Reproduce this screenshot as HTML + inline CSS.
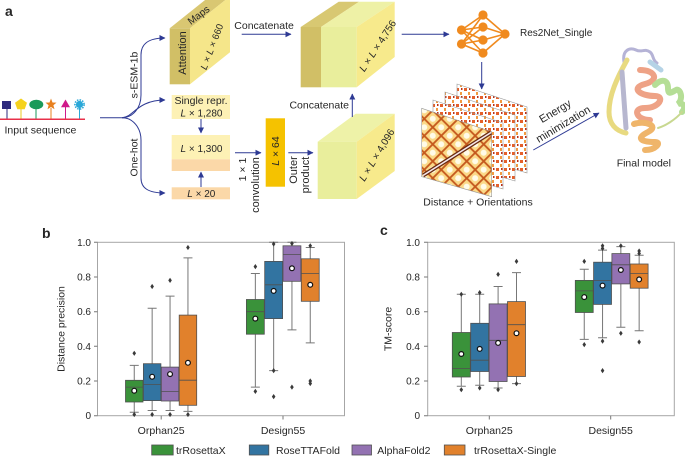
<!DOCTYPE html>
<html><head><meta charset="utf-8"><style>
html,body{margin:0;padding:0;background:#fff}
svg{display:block}
text{font-family:"Liberation Sans",Arial,sans-serif;fill:#262626}
</style></head><body>
<svg width="685" height="456" viewBox="0 0 685 456" xmlns="http://www.w3.org/2000/svg">
<defs>
<marker id="ah" markerWidth="6" markerHeight="6" refX="5.5" refY="3" orient="auto" markerUnits="userSpaceOnUse"><path d="M0,0 L6,3 L0,6 Z" fill="#2e3a94"/></marker>
<path id="dm" d="M0,-2.6 L1.8,0 L0,2.6 L-1.8,0Z" fill="#3a3a3a"/>
<pattern id="hf" width="12" height="12" patternUnits="userSpaceOnUse" patternTransform="rotate(45)">
<rect width="12" height="12" fill="#fbd988"/><rect width="12" height="12" fill="none" stroke="#c4581c" stroke-width="1.8"/><circle cx="6" cy="6" r="3" fill="#fffbe8"/></pattern>
<pattern id="hb" width="8" height="8" patternUnits="userSpaceOnUse">
<rect width="8" height="8" fill="#fff"/><rect width="3" height="3" fill="#e5602a"/><rect x="4" y="4" width="2" height="3" fill="#f29a40"/><rect x="5" y="0" width="1.5" height="2" fill="#b8301a"/></pattern>
</defs>

<!-- ===== Panel a ===== -->
<text x="5" y="16" font-size="14" font-weight="bold">a</text>

<!-- input sequence -->
<g stroke-width="1">
<line x1="7" y1="108" x2="7" y2="119" stroke="#2e2a7e"/>
<line x1="21" y1="108" x2="21" y2="119" stroke="#e8c81e"/>
<line x1="36" y1="108" x2="36" y2="119" stroke="#1a9a5a"/>
<line x1="51" y1="108" x2="51" y2="119" stroke="#e8801e"/>
<line x1="65.5" y1="107" x2="65.5" y2="119" stroke="#d01a8a"/>
<line x1="79.5" y1="108" x2="79.5" y2="119" stroke="#2aa8d8"/>
</g>
<rect x="2" y="101" width="9" height="8" fill="#2e2a7e"/>
<polygon points="21,98.5 27,102.8 24.7,109.3 17.3,109.3 15,102.8" fill="#f5d21e"/>
<ellipse cx="36.3" cy="104.5" rx="7" ry="4.8" fill="#1a9a5a"/>
<polygon points="51,98.5 52.5,102.5 56.5,102.6 53.4,105.2 54.5,109.3 51,107 47.5,109.3 48.6,105.2 45.5,102.6 49.5,102.5" fill="#e8801e"/>
<polygon points="65.5,99.5 70,107.3 61,107.3" fill="#d01a8a"/>
<circle cx="79.5" cy="104.5" r="3.6" fill="#2aa8d8"/>
<circle cx="79.5" cy="104.5" r="4.6" fill="none" stroke="#2aa8d8" stroke-width="1.6" stroke-dasharray="1.5 1.2"/>
<line x1="0" y1="119.3" x2="85" y2="119.3" stroke="#e8304a" stroke-width="1.5"/>
<text x="4.5" y="133.5" font-size="10.5">Input sequence</text>

<!-- branching arrows -->
<g fill="none" stroke="#2e3a94" stroke-width="1">
<path d="M100,117.7 L122,117.7 C133,117.7 141,108 141,95 L141,55 C141,44 148,38 165,38" marker-end="url(#ah)"/>
<path d="M122,117.7 C133,117.7 137,100 165,100" marker-end="url(#ah)"/>
<path d="M122,117.7 C133,117.7 141,128 141,140 L141,178 C141,188 148,193 165,193" marker-end="url(#ah)"/>
</g>
<text transform="translate(134,75) rotate(-90)" text-anchor="middle" dy="0.35em" font-size="10.5">s-ESM-1b</text>
<text transform="translate(134,157.5) rotate(-90)" text-anchor="middle" dy="0.35em" font-size="10.5">One-hot</text>

<!-- attention box -->
<polygon points="169.7,28.3 209.7,-3.7 230,-3.7 190,28.3" fill="#d9c772"/>
<rect x="169.7" y="28.3" width="20.3" height="56" fill="#d1bf66"/>
<polygon points="190,28.3 230,-3.7 230,52.3 190,84.3" fill="#f5e68a"/>
<text transform="translate(182.3,53) rotate(-90)" text-anchor="middle" dy="0.35em" font-size="11">Attention</text>
<text transform="translate(198.5,15) rotate(-37)" text-anchor="middle" dy="0.35em" font-size="10">Maps</text>
<text transform="translate(211.7,46.7) rotate(-69)" text-anchor="middle" dy="0.35em" font-size="9.5"><tspan font-style="italic">L</tspan> × <tspan font-style="italic">L</tspan> × 660</text>

<!-- small boxes -->
<rect x="171.7" y="95" width="58.3" height="24" fill="#fdf1b5"/>
<text x="201" y="104" text-anchor="middle" font-size="10.5">Single repr.</text>
<text x="201.5" y="116.3" text-anchor="middle" font-size="10"><tspan font-style="italic">L</tspan> × 1,280</text>
<line x1="201" y1="119" x2="201" y2="133" stroke="#2e3a94" marker-end="url(#ah)"/>
<rect x="171.7" y="135" width="58.3" height="24.3" fill="#fdf1b5"/>
<rect x="171.7" y="159.3" width="58.3" height="11.7" fill="#fbd8a8"/>
<text x="201.5" y="152" text-anchor="middle" font-size="10"><tspan font-style="italic">L</tspan> × 1,300</text>
<line x1="201" y1="187" x2="201" y2="172" stroke="#2e3a94" marker-end="url(#ah)"/>
<rect x="171.7" y="187.3" width="58.3" height="12" fill="#fbd8a8"/>
<text x="201.3" y="197" text-anchor="middle" font-size="10"><tspan font-style="italic">L</tspan> × 20</text>

<!-- convolution -->
<line x1="235" y1="152.7" x2="261" y2="152.7" stroke="#2e3a94" marker-end="url(#ah)"/>
<text transform="translate(242.5,169.5) rotate(-90)" text-anchor="middle" dy="0.35em" font-size="10.5">1 × 1</text>
<text transform="translate(255,185) rotate(-90)" text-anchor="middle" dy="0.35em" font-size="11">convolution</text>
<rect x="265.7" y="118.3" width="19.3" height="68.4" fill="#f5c200"/>
<text transform="translate(275.3,151) rotate(-90)" text-anchor="middle" dy="0.35em" font-size="10.5"><tspan font-style="italic">L</tspan> × 64</text>
<line x1="288.3" y1="152.7" x2="313" y2="152.7" stroke="#2e3a94" marker-end="url(#ah)"/>
<text transform="translate(293.3,170) rotate(-90)" text-anchor="middle" dy="0.35em" font-size="11">Outer</text>
<text transform="translate(305,175) rotate(-90)" text-anchor="middle" dy="0.35em" font-size="11">product</text>

<!-- concatenate top -->
<text x="234.3" y="29" font-size="10.5">Concatenate</text>
<line x1="241.7" y1="34.3" x2="291" y2="34.3" stroke="#2e3a94" marker-end="url(#ah)"/>

<!-- upper concat box -->
<polygon points="300.7,27 338.7,1.7 359,1.7 321,27" fill="#d8c872"/>
<polygon points="321,27 359,1.7 394.7,1.7 356.7,27" fill="#eef1a6"/>
<rect x="300.7" y="27" width="20.3" height="60.3" fill="#d1bf66"/>
<rect x="321" y="27" width="35.7" height="60.3" fill="#e9ee9c"/>
<polygon points="356.7,27 394.7,1.7 394.7,57 356.7,87.3" fill="#f7ea8c"/>
<text transform="translate(377.5,45.8) rotate(-57)" text-anchor="middle" dy="0.35em" font-size="10"><tspan font-style="italic">L</tspan> × <tspan font-style="italic">L</tspan> × 4,756</text>

<!-- lower box -->
<polygon points="317.7,141.7 355.7,113.7 394.7,113.7 356.7,141.7" fill="#eef2a8"/>
<rect x="317.7" y="141.7" width="39" height="57.3" fill="#e9ee9c"/>
<polygon points="356.7,141.7 394.7,113.7 394.7,171 356.7,199" fill="#f7ea8c"/>
<text transform="translate(376.7,155) rotate(-59)" text-anchor="middle" dy="0.35em" font-size="10"><tspan font-style="italic">L</tspan> × <tspan font-style="italic">L</tspan> × 4,096</text>
<text x="349" y="108.5" text-anchor="end" font-size="10.5">Concatenate</text>
<line x1="352.3" y1="117" x2="352.3" y2="94" stroke="#2e3a94" marker-end="url(#ah)"/>

<!-- NN -->
<line x1="401.7" y1="34.3" x2="449" y2="34.3" stroke="#2e3a94" marker-end="url(#ah)"/>
<g stroke="#f08a1e" stroke-width="1.6">
<line x1="461.5" y1="30" x2="483" y2="15"/><line x1="461.5" y1="30" x2="483" y2="27"/><line x1="461.5" y1="30" x2="483" y2="40"/><line x1="461.5" y1="30" x2="483" y2="53"/>
<line x1="461.5" y1="44" x2="483" y2="15"/><line x1="461.5" y1="44" x2="483" y2="27"/><line x1="461.5" y1="44" x2="483" y2="40"/><line x1="461.5" y1="44" x2="483" y2="53"/>
<line x1="505" y1="34" x2="483" y2="15"/><line x1="505" y1="34" x2="483" y2="27"/><line x1="505" y1="34" x2="483" y2="40"/><line x1="505" y1="34" x2="483" y2="53"/>
</g>
<g fill="#f08a1e">
<circle cx="461.5" cy="30" r="4.6"/><circle cx="461.5" cy="44" r="4.6"/>
<circle cx="483" cy="15" r="4.6"/><circle cx="483" cy="27" r="4.6"/><circle cx="483" cy="40" r="4.6"/><circle cx="483" cy="53" r="4.6"/>
<circle cx="505" cy="34" r="4.6"/>
</g>
<text x="520" y="36" font-size="10">Res2Net_Single</text>
<line x1="481.7" y1="62" x2="481.7" y2="89" stroke="#2e3a94" marker-end="url(#ah)"/>

<!-- heatmaps -->
<polygon points="457,84 527,107 527,173 457,152" fill="url(#hb)" stroke="#999" stroke-width="0.6"/>
<polygon points="445,92 515,115 515,181 445,160" fill="url(#hb)" stroke="#999" stroke-width="0.6"/>
<polygon points="433,100 503,123 503,189 433,168" fill="url(#hb)" stroke="#999" stroke-width="0.6"/>
<polygon points="421.7,108.3 491.7,131.7 491.7,196.7 421.7,176.7" fill="url(#hf)" stroke="#999" stroke-width="0.6"/>
<line x1="423" y1="175.5" x2="491" y2="132.5" stroke="#6a2a10" stroke-width="4"/>
<line x1="423" y1="175.5" x2="491" y2="132.5" stroke="#f4e8ec" stroke-width="1.6"/>
<text x="423.3" y="205.5" font-size="10.5">Distance + Orientations</text>

<!-- energy minimization -->
<line x1="533.3" y1="150" x2="599" y2="113" stroke="#2e3a94" marker-end="url(#ah)"/>
<text transform="translate(555,111) rotate(-31)" text-anchor="middle" dy="0.35em" font-size="11">Energy</text>
<text transform="translate(563,124) rotate(-31)" text-anchor="middle" dy="0.35em" font-size="11">minimization</text>

<!-- protein -->
<g fill="none" stroke-linecap="round">
<path d="M624,62 C622,50 630,47 636,50 C642,53 644,48 650,52 C654,55 652,60 657,63" stroke="#b5b3d6" stroke-width="3"/>
<path d="M650,62 L661,70" stroke="#b5d3e6" stroke-width="5"/>
<path d="M627,60 C617,78 609,95 609,112 C609,124 616,131 626,133" stroke="#e8da80" stroke-width="5"/>
<path d="M622,72 L626,128" stroke="#b7b7cf" stroke-width="5"/>
<path d="M640,70 C655,70 660,80 645,84 C630,88 640,96 655,96 C665,96 660,108 645,108 C632,108 636,120 650,120" stroke="#eea286" stroke-width="6"/>
<path d="M655,85 C662,78 668,80 668,88 C668,96 672,92 676,90 C680,88 684,98 678,104 C684,102 686,108 682,112" stroke="#b5de96" stroke-width="6"/>
<path d="M682,112 C675,120 665,126 658,128" stroke="#c8d890" stroke-width="2"/>
<path d="M634,124 C645,120 660,126 648,132 C636,138 640,142 655,142 C662,142 656,150 645,150" stroke="#efb56a" stroke-width="6"/>
</g>
<text x="616.7" y="166.5" font-size="10.5">Final model</text>

<!-- ===== Panel b ===== -->
<text x="42" y="238" font-size="14" font-weight="bold">b</text>
<rect x="97.5" y="242.3" width="247" height="173.4" fill="none" stroke="#a6a6a6" stroke-width="1"/>
<g stroke="#777" stroke-width="1">
<path d="M94,242.3H97.5M94,277H97.5M94,311.7H97.5M94,346.3H97.5M94,381H97.5M94,415.7H97.5M161.2,415.7V419.5M283,415.7V419.5"/>
</g>
<g font-size="10" text-anchor="end">
<text x="91" y="245.8">1.0</text><text x="91" y="280.5">0.8</text><text x="91" y="315.2">0.6</text><text x="91" y="349.8">0.4</text><text x="91" y="384.5">0.2</text><text x="91" y="419.2">0</text>
</g>
<text transform="translate(61,329) rotate(-90)" text-anchor="middle" dy="0.35em" font-size="10.5">Distance precision</text>
<text x="161.2" y="434" text-anchor="middle" font-size="10.5" textLength="47" lengthAdjust="spacingAndGlyphs">Orphan25</text>
<text x="283" y="434" text-anchor="middle" font-size="10.5">Design55</text>

<g stroke="#777" stroke-width="1" fill="none">
<path d="M134.25,365.4V380.3M134.25,402V412.2M129.75,365.4H138.75M129.75,412.2H138.75"/>
<path d="M152.15,308.2V363.7M152.15,400.6V410.5M147.65,308.2H156.65M147.65,410.5H156.65"/>
<path d="M170.05,296.1V367.1M170.05,401V410.5M165.55,296.1H174.55M165.55,410.5H174.55"/>
<path d="M187.95,257.9V315.1M187.95,405.3V411.4M183.45,257.9H192.45M183.45,411.4H192.45"/>
<path d="M255.35,273.5V299.5M255.35,334.2V387.1M250.85,273.5H259.85M250.85,387.1H259.85"/>
<path d="M273.65,242.3V261.4M273.65,318.6V370.6M269.15,242.3H278.15M269.15,370.6H278.15"/>
<path d="M291.95,242.3V245.8M291.95,281.3V329.9M287.45,242.3H296.45M287.45,329.9H296.45"/>
<path d="M310.25,247.5V258.8M310.25,301.3V342.9M305.75,247.5H314.75M305.75,342.9H314.75"/>
</g>
<g stroke="#505050" stroke-width="0.8">
<rect x="125.5" y="380.3" width="17.5" height="21.7" fill="#3a923a"/>
<rect x="143.4" y="363.7" width="17.5" height="36.9" fill="#3274a1"/>
<rect x="161.3" y="367.1" width="17.5" height="33.9" fill="#9372b2"/>
<rect x="179.2" y="315.1" width="17.5" height="90.2" fill="#e1812c"/>
<rect x="246.4" y="299.5" width="17.9" height="34.7" fill="#3a923a"/>
<rect x="264.7" y="261.4" width="17.9" height="57.2" fill="#3274a1"/>
<rect x="283" y="245.8" width="17.9" height="35.5" fill="#9372b2"/>
<rect x="301.3" y="258.8" width="17.9" height="42.5" fill="#e1812c"/>
<path d="M125.5,387.1H143M143.4,384.5H160.9M161.3,391.4H178.8M179.2,380.2H196.7M246.4,311.7H264.3M264.7,284.8H282.6M283,254.4H300.9M301.3,273.5H319.2" fill="none"/>
</g>
<g>
<use href="#dm" x="134.25" y="353.3"/><use href="#dm" x="134.25" y="414.5"/>
<use href="#dm" x="152.15" y="286.5"/><use href="#dm" x="152.15" y="414.5"/>
<use href="#dm" x="170.05" y="280.4"/><use href="#dm" x="170.05" y="414.5"/>
<use href="#dm" x="187.95" y="247.5"/><use href="#dm" x="187.95" y="414.5"/>
<use href="#dm" x="255.35" y="266.6"/><use href="#dm" x="255.35" y="391.4"/>
<use href="#dm" x="273.65" y="244"/><use href="#dm" x="273.65" y="370.6"/><use href="#dm" x="273.65" y="396.6"/>
<use href="#dm" x="291.95" y="243.5"/><use href="#dm" x="291.95" y="387.1"/>
<use href="#dm" x="310.25" y="245.8"/><use href="#dm" x="310.25" y="381"/><use href="#dm" x="310.25" y="383.5"/>
</g>
<g fill="#fff" stroke="#111" stroke-width="1.2">
<circle cx="134.25" cy="390.7" r="2.4"/><circle cx="152.15" cy="376.7" r="2.4"/><circle cx="170.05" cy="374.1" r="2.4"/><circle cx="187.95" cy="362.8" r="2.4"/>
<circle cx="255.35" cy="318.6" r="2.4"/><circle cx="273.65" cy="290.9" r="2.4"/><circle cx="291.95" cy="268.3" r="2.4"/><circle cx="310.25" cy="284.8" r="2.4"/>
</g>

<!-- ===== Panel c ===== -->
<text x="380" y="235" font-size="14" font-weight="bold">c</text>
<rect x="427.7" y="242.3" width="246.6" height="173.4" fill="none" stroke="#a6a6a6" stroke-width="1"/>
<g stroke="#777" stroke-width="1">
<path d="M424,242.3H427.7M424,277H427.7M424,311.7H427.7M424,346.3H427.7M424,381H427.7M424,415.7H427.7M489.3,415.7V419.5M610.7,415.7V419.5"/>
</g>
<g font-size="10" text-anchor="end">
<text x="420" y="245.8">1.0</text><text x="420" y="280.5">0.8</text><text x="420" y="315.2">0.6</text><text x="420" y="349.8">0.4</text><text x="420" y="384.5">0.2</text><text x="420" y="419.2">0</text>
</g>
<text transform="translate(387.7,329) rotate(-90)" text-anchor="middle" dy="0.35em" font-size="10.5">TM-score</text>
<text x="489.3" y="434" text-anchor="middle" font-size="10.5" textLength="47" lengthAdjust="spacingAndGlyphs">Orphan25</text>
<text x="610.7" y="434" text-anchor="middle" font-size="10.5">Design55</text>

<g stroke="#777" stroke-width="1" fill="none">
<path d="M461.3,294.3V332.5M461.3,377V386.2M456.8,294.3H465.8M456.8,386.2H465.8"/>
<path d="M479.7,294.3V323.3M479.7,371.5V385.3M475.2,294.3H484.2M475.2,385.3H484.2"/>
<path d="M498.1,286.5V303.9M498.1,381.5V388M493.6,286.5H502.6M493.6,388H502.6"/>
<path d="M516.5,272.6V301.6M516.5,376.5V383.6M512,272.6H521M512,383.6H521"/>
<path d="M584.25,269.2V280.4M584.25,312.5V339.4M579.75,269.2H588.75M579.75,339.4H588.75"/>
<path d="M602.55,250.1V262.2M602.55,304.4V337.7M598.05,250.1H607.05M598.05,337.7H607.05"/>
<path d="M620.85,246.6V253.6M620.85,283.9V327.3M616.35,246.6H625.35M616.35,327.3H625.35"/>
<path d="M639.15,255.3V264M639.15,288.2V330.7M634.65,255.3H643.65M634.65,330.7H643.65"/>
</g>
<g stroke="#505050" stroke-width="0.8">
<rect x="452.3" y="332.5" width="18" height="44.5" fill="#3a923a"/>
<rect x="470.7" y="323.3" width="18" height="48.2" fill="#3274a1"/>
<rect x="489.1" y="303.9" width="18" height="77.6" fill="#9372b2"/>
<rect x="507.5" y="301.6" width="18" height="74.9" fill="#e1812c"/>
<rect x="575.3" y="280.4" width="17.9" height="32.1" fill="#3a923a"/>
<rect x="593.6" y="262.2" width="17.9" height="42.2" fill="#3274a1"/>
<rect x="611.9" y="253.6" width="17.9" height="30.3" fill="#9372b2"/>
<rect x="630.2" y="264" width="17.9" height="24.2" fill="#e1812c"/>
<path d="M452.3,368.4H470.3M470.7,360.2H488.7M489.1,340.3H507.1M507.5,324.7H525.5M575.3,290.9H593.2M593.6,280.4H611.5M611.9,264.8H629.8M630.2,273.5H648.1" fill="none"/>
</g>
<g>
<use href="#dm" x="461.3" y="294.3"/><use href="#dm" x="461.3" y="389.7"/>
<use href="#dm" x="479.7" y="292.6"/><use href="#dm" x="479.7" y="388"/>
<use href="#dm" x="498.1" y="274.4"/><use href="#dm" x="498.1" y="389.7"/>
<use href="#dm" x="516.5" y="261.4"/><use href="#dm" x="516.5" y="383.6"/>
<use href="#dm" x="584.25" y="261.4"/><use href="#dm" x="584.25" y="344.6"/>
<use href="#dm" x="602.55" y="245.8"/><use href="#dm" x="602.55" y="248.5"/><use href="#dm" x="602.55" y="341.1"/><use href="#dm" x="602.55" y="370.6"/>
<use href="#dm" x="620.85" y="245.8"/><use href="#dm" x="620.85" y="333.3"/>
<use href="#dm" x="639.15" y="251"/><use href="#dm" x="639.15" y="253.5"/><use href="#dm" x="639.15" y="342"/>
</g>
<g fill="#fff" stroke="#111" stroke-width="1.2">
<circle cx="461.3" cy="354" r="2.4"/><circle cx="479.7" cy="348.9" r="2.4"/><circle cx="498.1" cy="342.9" r="2.4"/><circle cx="516.5" cy="333.2" r="2.4"/>
<circle cx="584.25" cy="297.1" r="2.4"/><circle cx="602.55" cy="285.6" r="2.4"/><circle cx="620.85" cy="270" r="2.4"/><circle cx="639.15" cy="279.4" r="2.4"/>
</g>

<!-- legend -->
<g stroke="#505050" stroke-width="0.8">
<rect x="151.7" y="445" width="21.5" height="10" fill="#3a923a"/>
<rect x="249.3" y="445" width="19.5" height="10" fill="#3274a1"/>
<rect x="352" y="445" width="19.5" height="10" fill="#9372b2"/>
<rect x="444.3" y="445" width="20.7" height="10" fill="#e1812c"/>
</g>
<g font-size="10.5">
<text x="176" y="454">trRosettaX</text>
<text x="276" y="454">RoseTTAFold</text>
<text x="377.3" y="454">AlphaFold2</text>
<text x="474" y="454">trRosettaX-Single</text>
</g>
</svg>
</body></html>
